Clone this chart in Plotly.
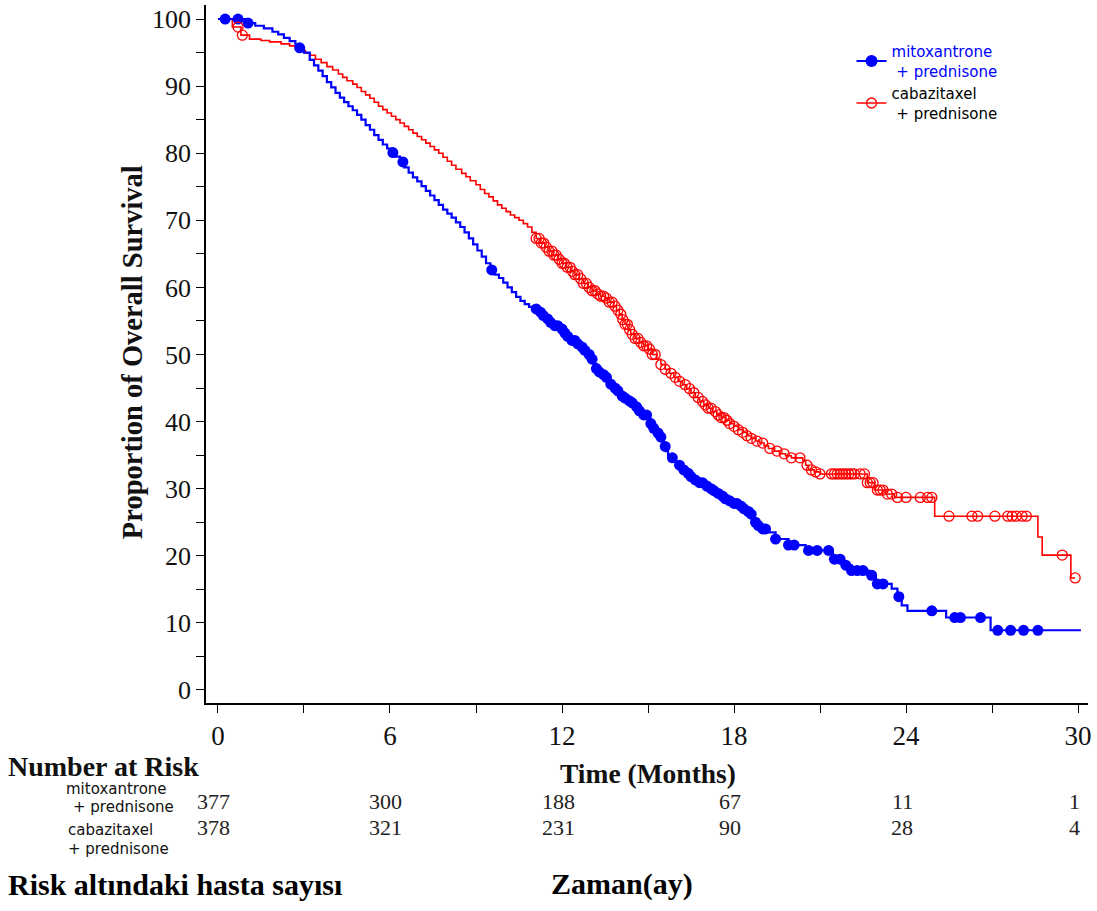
import plotly.graph_objects as go

# ---------------- DATA ----------------
# Kaplan-Meier step points (time in months, survival %)
mitox_t = [0, 1.0, 1.3, 1.6, 1.9, 2.1, 2.3, 2.5, 2.7, 2.85, 3.0, 3.2, 3.35, 3.5, 3.65, 3.8, 3.95,
           4.1, 4.25, 4.4, 4.55, 4.7, 4.85, 5.0, 5.15, 5.3, 5.45, 5.6, 5.75, 5.9, 6.05, 6.2, 6.35,
           6.5, 6.65, 6.8, 6.95, 7.1, 7.25, 7.4, 7.55, 7.7, 7.85, 8.0, 8.15, 8.3, 8.45, 8.6, 8.75,
           8.9, 9.05, 9.2, 9.35, 9.5, 9.65, 9.8, 9.95, 10.1, 10.25, 10.4, 10.55, 10.7, 10.85, 11.0,
           11.15, 11.3, 11.45, 11.6, 11.75, 11.9, 12.05, 12.2, 12.35, 12.5, 12.65, 12.8, 12.9, 13.0,
           13.1, 13.2, 13.3, 13.4, 13.5, 13.6, 13.7, 13.8, 13.9, 14.0, 14.1, 14.2, 14.3, 14.4, 14.55,
           14.7, 14.85, 15.0, 15.1, 15.2, 15.3, 15.4, 15.48, 15.55, 15.62, 15.7, 15.8, 15.95, 16.05,
           16.2, 16.35, 16.5, 16.65, 16.8, 16.95, 17.1, 17.25, 17.4, 17.55, 17.7, 17.85, 18.0, 18.15,
           18.3, 18.45, 18.55, 18.65, 18.75, 18.85, 18.95, 19.2, 19.45, 19.9, 20.5, 21.45, 21.8,
           22.1, 22.7, 22.95, 23.5, 23.7, 23.85, 24.05, 25.4, 26.95, 30.1]
mitox_s = [100, 99.4, 99.0, 98.6, 98.1, 97.7, 97.2, 96.7, 96.2, 95.7, 95.0, 93.9, 93.1, 92.3, 91.5,
           90.6, 89.8, 89.0, 88.3, 87.6, 87.0, 86.4, 85.7, 85.0, 84.2, 83.5, 82.7, 82.0, 81.3, 80.7,
           80.1, 79.5, 78.7, 77.9, 77.1, 76.4, 75.8, 75.1, 74.4, 73.7, 73.0, 72.3, 71.6, 71.0, 70.4,
           69.7, 69.0, 68.2, 67.3, 66.4, 65.5, 64.6, 63.6, 62.6, 61.9, 61.4, 60.7, 60.0, 59.3, 58.6,
           58.0, 57.5, 57.1, 56.8, 56.3, 55.8, 55.3, 54.8, 54.3, 53.8, 53.2, 52.7, 52.1, 51.6, 51.1,
           50.6, 50.0, 49.3, 48.6, 47.9, 47.4, 47.0, 46.6, 46.2, 45.6, 45.0, 44.6, 44.2, 43.8, 43.5,
           43.1, 42.8, 42.2, 41.6, 41.0, 40.4, 39.7, 39.0, 38.3, 37.7, 37.0, 36.3, 35.6, 35.0, 34.6,
           34.0, 33.5, 32.8, 32.3, 31.8, 31.3, 30.9, 30.4, 30.0, 29.7, 29.3, 28.9, 28.5, 28.2, 27.8,
           27.4, 27.0, 26.6, 26.2, 25.6, 25.0, 24.5, 24.0, 23.5, 22.5, 21.6, 20.8, 19.5, 18.6, 17.8,
           17.1, 15.8, 15.1, 13.9, 12.6, 11.8, 10.8, 8.9, 8.9]

caba_t = [0, 0.5, 0.8, 1.1, 1.5, 1.8, 2.2, 2.5, 2.7, 2.9, 3.05, 3.2, 3.4, 3.6, 3.8, 4.0, 4.2, 4.35,
          4.5, 4.7, 4.85, 5.0, 5.15, 5.3, 5.45, 5.6, 5.75, 5.9, 6.05, 6.2, 6.35, 6.5, 6.65, 6.8,
          6.95, 7.1, 7.25, 7.4, 7.55, 7.7, 7.85, 8.0, 8.15, 8.3, 8.5, 8.65, 8.8, 9.0, 9.15, 9.3,
          9.45, 9.6, 9.75, 9.9, 10.05, 10.2, 10.35, 10.5, 10.65, 10.8, 10.95, 11.1, 11.25, 11.4,
          11.55, 11.7, 11.85, 12.0, 12.15, 12.3, 12.45, 12.6, 12.75, 12.9, 13.05, 13.2, 13.35, 13.5,
          13.65, 13.8, 13.9, 14.0, 14.1, 14.2, 14.3, 14.4, 14.55, 14.7, 14.85, 15.0, 15.15, 15.3,
          15.45, 15.6, 15.75, 15.9, 16.05, 16.2, 16.35, 16.5, 16.65, 16.8, 16.95, 17.1, 17.25, 17.4,
          17.55, 17.7, 17.85, 18.0, 18.15, 18.3, 18.45, 18.6, 18.75, 18.9, 19.05, 19.2, 19.4, 19.6,
          19.8, 20.0, 20.4, 20.5, 20.6, 20.8, 21.0, 22.65, 22.9, 23.3, 23.6, 25.0, 28.6, 28.75,
          29.75, 29.9]
caba_s = [100, 98.8, 97.6, 97.0, 96.8, 96.6, 96.3, 96.0, 95.6, 95.3, 94.9, 94.6, 94.0, 93.5, 92.9,
          92.4, 91.8, 91.3, 90.8, 90.3, 89.8, 89.2, 88.7, 88.2, 87.6, 87.0, 86.5, 86.0, 85.5, 85.0,
          84.5, 84.0, 83.5, 83.0, 82.5, 82.0, 81.5, 81.0, 80.5, 80.0, 79.4, 78.8, 78.2, 77.6, 77.0,
          76.5, 75.9, 75.3, 74.6, 74.0, 73.5, 72.9, 72.3, 71.8, 71.3, 70.8, 70.4, 70.0, 69.5, 69.0,
          68.2, 67.3, 66.6, 66.0, 65.4, 64.8, 64.2, 63.6, 63.0, 62.4, 61.9, 61.3, 60.6, 60.0, 59.5,
          59.0, 58.7, 58.4, 57.8, 57.2, 56.6, 56.0, 55.2, 54.5, 53.7, 53.0, 52.4, 51.8, 51.3, 50.8,
          50.0, 49.3, 48.5, 47.8, 47.2, 46.6, 46.0, 45.5, 44.9, 44.3, 43.6, 43.0, 42.5, 42.0, 41.5,
          41.0, 40.6, 40.2, 39.7, 39.3, 38.8, 38.4, 37.9, 37.5, 37.1, 36.8, 36.4, 36.0, 35.6, 35.2,
          34.9, 34.6, 34.2, 33.5, 32.8, 32.5, 32.2, 30.9, 29.8, 29.2, 28.7, 25.9, 22.8, 20.1, 16.7,
          16.7]

# Censoring times (months)
mitox_cens = [0.25, 0.7, 1.05, 2.85, 6.1, 6.45, 9.55, 11.1, 11.25, 11.35, 11.5, 11.6, 11.75, 11.85,
              12.0, 12.1, 12.2, 12.35, 12.45, 12.55, 12.7, 12.8, 12.95, 13.05, 13.2, 13.3, 13.45,
              13.55, 13.7, 13.85, 13.95, 14.1, 14.2, 14.35, 14.45, 14.6, 14.7, 14.85, 14.95, 15.1,
              15.2, 15.35, 15.45, 15.6, 15.85, 16.1, 16.25, 16.4, 16.5, 16.65, 16.8, 16.9, 17.05,
              17.2, 17.3, 17.45, 17.6, 17.7, 17.85, 18.0, 18.1, 18.25, 18.35, 18.5, 18.6, 18.75,
              18.85, 19.0, 19.1, 19.45, 19.9, 20.1, 20.6, 20.9, 21.3, 21.5, 21.7, 21.9, 22.1, 22.3,
              22.5, 22.8, 23.0, 23.2, 23.75, 24.9, 25.7, 25.9, 26.6, 27.2, 27.65, 28.1, 28.6]
caba_cens = [0.7, 0.85, 11.1, 11.2, 11.28, 11.36, 11.45, 11.55, 11.65, 11.72, 11.8, 11.9, 12.0,
             12.08, 12.18, 12.28, 12.36, 12.45, 12.55, 12.65, 12.75, 12.85, 12.95, 13.05, 13.15,
             13.25, 13.35, 13.45, 13.55, 13.65, 13.75, 13.85, 13.95, 14.05, 14.12, 14.2, 14.28,
             14.36, 14.45, 14.55, 14.65, 14.75, 14.85, 14.95, 15.05, 15.15, 15.25, 15.45, 15.6,
             15.8, 15.95, 16.1, 16.3, 16.45, 16.6, 16.75, 16.9, 17.0, 17.1, 17.2, 17.35, 17.45,
             17.55, 17.65, 17.75, 17.85, 18.0, 18.15, 18.3, 18.45, 18.6, 18.8, 19.0, 19.25, 19.5,
             19.75, 20.0, 20.3, 20.55, 20.7, 20.85, 21.0, 21.4, 21.5, 21.6, 21.7, 21.8, 21.9, 22.0,
             22.1, 22.2, 22.4, 22.55, 22.65, 22.75, 22.85, 23.0, 23.1, 23.2, 23.35, 23.5, 23.7,
             24.0, 24.5, 24.75, 24.9, 25.5, 26.3, 26.5, 27.1, 27.55, 27.7, 27.85, 28.05, 28.2,
             29.45, 29.9]

risk_times = [0, 6, 12, 18, 24, 30]
risk_mitox = [377, 300, 188, 67, 11, 1]
risk_caba = [378, 321, 231, 90, 28, 4]

BLUE = "#0000FF"
RED = "#FF0000"


def surv_at(times, surv, t):
    val = surv[0]
    for ti, si in zip(times, surv):
        if ti <= t:
            val = si
        else:
            break
    return val


mitox_cens_y = [surv_at(mitox_t, mitox_s, t) for t in mitox_cens]
caba_cens_y = [surv_at(caba_t, caba_s, t) for t in caba_cens]

# ---------------- LAYOUT GEOMETRY ----------------
W, H = 1097, 911
L, R, T, B = 206, 7, 5, 208
PW, PH = W - L - R, H - T - B


def px(x):
    return (x - L) / PW


def py(y):
    return 1 - (y - T) / PH


fig = go.Figure()

fig.add_trace(go.Scatter(x=caba_t, y=caba_s, mode="lines", line=dict(color=RED, width=1.6, shape="hv"),
                         showlegend=False, hoverinfo="skip"))
fig.add_trace(go.Scatter(x=mitox_t, y=mitox_s, mode="lines", line=dict(color=BLUE, width=2.2, shape="hv"),
                         showlegend=False, hoverinfo="skip"))
fig.add_trace(go.Scatter(x=mitox_cens, y=mitox_cens_y, mode="markers",
                         marker=dict(symbol="circle", size=11, color=BLUE, line=dict(width=0)),
                         showlegend=False, hoverinfo="skip"))
fig.add_trace(go.Scatter(x=caba_cens, y=caba_cens_y, mode="markers",
                         marker=dict(symbol="circle-open", size=10, color=RED, line=dict(width=1.3, color=RED)),
                         showlegend=False, hoverinfo="skip"))

fig.add_trace(go.Scatter(x=[None], y=[None], mode="lines+markers",
                         line=dict(color=BLUE, width=2.2),
                         marker=dict(symbol="circle", size=12, color=BLUE),
                         name="<span style='color:#0000FF'>mitoxantrone<br> + prednisone</span>"))
fig.add_trace(go.Scatter(x=[None], y=[None], mode="lines+markers",
                         line=dict(color=RED, width=1.6),
                         marker=dict(symbol="circle-open", size=10, color=RED, line=dict(width=1.3)),
                         name="cabazitaxel<br> + prednisone"))

serif = "Liberation Serif, Times New Roman, serif"
sans = "DejaVu Sans, Verdana, sans-serif"

fig.update_layout(
    width=W, height=H,
    margin=dict(l=L, r=R, t=T, b=B),
    paper_bgcolor="white", plot_bgcolor="white",
    showlegend=True,
    legend=dict(x=px(853), y=py(35), xanchor="left", yanchor="top",
                font=dict(family=sans, size=15, color="black"),
                bgcolor="rgba(0,0,0,0)", borderwidth=0, tracegroupgap=0,
                itemwidth=30),
    xaxis=dict(range=[-0.418, 30.348], tickmode="array", tickvals=risk_times,
               ticktext=[str(v) for v in risk_times],
               showline=True, linecolor="black", linewidth=1.5, mirror=False,
               ticks="outside", ticklen=8, tickwidth=1.2, tickcolor="black",
               minor=dict(dtick=3, tick0=0, ticks="outside", ticklen=8, tickwidth=1.2, tickcolor="black"),
               showgrid=False, zeroline=False,
               tickfont=dict(family=serif, size=27, color="#111")),
    yaxis=dict(range=[-1.94, 102.09], tickmode="linear", tick0=0, dtick=10,
               showline=True, linecolor="black", linewidth=1.5, mirror=False,
               ticks="outside", ticklen=8, tickwidth=1.2, tickcolor="black",
               minor=dict(dtick=5, tick0=0, ticks="outside", ticklen=8, tickwidth=1.2, tickcolor="black"),
               showgrid=False, zeroline=False,
               tickfont=dict(family=serif, size=26, color="#111")),
)

ann = []
ann.append(dict(text="<b>Proportion of Overall Survival</b>", x=px(132), y=py(352), xref="paper", yref="paper",
                textangle=-90, showarrow=False, xanchor="center", yanchor="middle",
                font=dict(family=serif, size=28.5, color="#111")))
ann.append(dict(text="<b>Number at Risk</b>", x=px(6), y=py(766), xref="paper", yref="paper",
                showarrow=False, xanchor="left", yanchor="middle",
                font=dict(family=serif, size=28, color="#111")))
ann.append(dict(text="<b>Time (Months)</b>", x=px(649), y=py(773), xref="paper", yref="paper",
                showarrow=False, xanchor="center", yanchor="middle",
                font=dict(family=serif, size=27.5, color="#111")))
for txt, xx, yy in [("mitoxantrone", 64, 789), ("+ prednisone", 71, 807),
                    ("cabazitaxel", 66, 830), ("+ prednisone", 66, 849)]:
    ann.append(dict(text=txt, x=px(xx), y=py(yy), xref="paper", yref="paper",
                    showarrow=False, xanchor="left", yanchor="middle",
                    font=dict(family=sans, size=15, color="#111")))
for t, a, b in zip(risk_times, risk_mitox, risk_caba):
    ann.append(dict(text=str(a), x=t, y=py(801), xref="x", yref="paper", xshift=-4,
                    showarrow=False, xanchor="center", yanchor="middle",
                    font=dict(family=serif, size=22, color="#222")))
    ann.append(dict(text=str(b), x=t, y=py(827), xref="x", yref="paper", xshift=-4,
                    showarrow=False, xanchor="center", yanchor="middle",
                    font=dict(family=serif, size=22, color="#222")))
ann.append(dict(text="<b>Risk altındaki hasta sayısı</b>", x=px(6), y=py(884), xref="paper", yref="paper",
                showarrow=False, xanchor="left", yanchor="middle",
                font=dict(family=serif, size=30, color="black")))
ann.append(dict(text="<b>Zaman(ay)</b>", x=px(550), y=py(884), xref="paper", yref="paper",
                showarrow=False, xanchor="left", yanchor="middle",
                font=dict(family=serif, size=30, color="black")))
fig.update_layout(annotations=ann)

fig.write_html("out.html", post_script="document.body.style.margin='0';",
               config={"displayModeBar": False})
